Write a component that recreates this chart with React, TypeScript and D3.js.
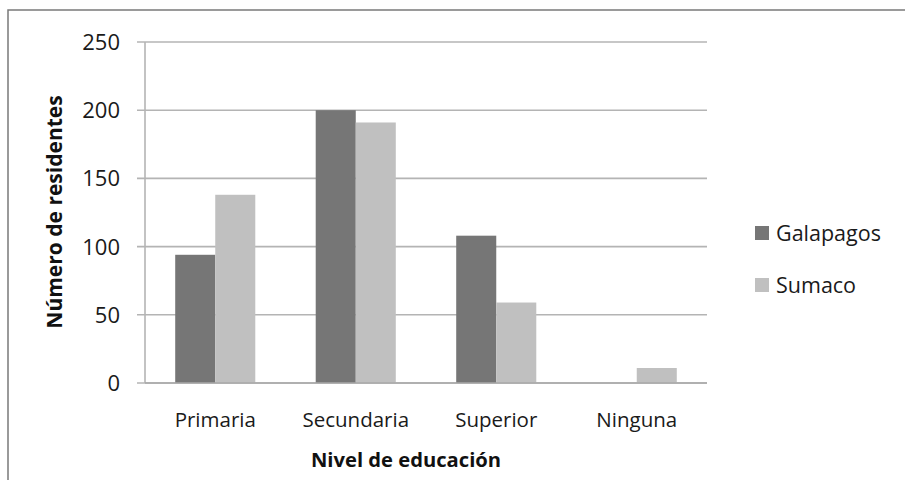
import React from "react";
import * as d3 from "d3";

const categories = ["Primaria", "Secundaria", "Superior", "Ninguna"];
const seriesNames = ["Galapagos", "Sumaco"];
const galapagos = [94, 200, 108, 0];
const sumaco = [138, 191, 59, 11];
const yTicks = [0, 50, 100, 150, 200, 250];
const colors = ["#767676", "#c0c0c0"];

const W = 905;
const H = 480;
const FONT = "'Open Sans', 'Noto Sans', sans-serif";

export default function App() {
  const left = 145, right = 707, top = 42, bottom = 383;
  const x = d3.scaleBand<string>().domain(categories).range([left, right]).paddingInner(0.43).paddingOuter(0.215);
  const xs = d3.scaleBand<string>().domain(seriesNames).range([0, x.bandwidth()]).padding(0);
  const y = d3.scaleLinear().domain([0, 250]).range([bottom, top]);
  const values = [galapagos, sumaco];

  return (
    <svg width={W} height={H} style={{ position: "absolute", left: 0, top: 0, background: "#fff" }} fontFamily={FONT}>
      <rect x={0} y={0} width={W} height={H} fill="#fff" />
      <rect x={8} y={10} width={W + 10} height={H + 10} fill="none" stroke="#7a7a7a" strokeWidth={1.5} />
      {yTicks.map((t) => (
        <g key={t}>
          <line x1={137} x2={right} y1={y(t)} y2={y(t)} stroke="#b4b4b4" strokeWidth={1.6} />
          <text x={120} y={y(t)} dy="0.36em" textAnchor="end" fontSize={22} fill="#1a1a1a">{t}</text>
        </g>
      ))}
      <line x1={left} x2={left} y1={top} y2={bottom} stroke="#b4b4b4" strokeWidth={1.6} />
      {seriesNames.map((s, si) =>
        categories.map((c, ci) => {
          const v = values[si][ci];
          if (v <= 0) return null;
          return (
            <rect key={s + c} x={(x(c) as number) + (xs(s) as number)} y={y(v)} width={xs.bandwidth()} height={y(0) - y(v)} fill={colors[si]} />
          );
        })
      )}
      <line x1={left} x2={right} y1={bottom} y2={bottom} stroke="#a8a8a8" strokeWidth={1.6} />
      {categories.map((c) => (
        <text key={c} x={(x(c) as number) + x.bandwidth() / 2} y={427} textAnchor="middle" fontSize={20.5} fill="#1a1a1a">{c}</text>
      ))}
      <text x={406} y={467} textAnchor="middle" fontSize={20.2} fontWeight="bold" fill="#111">Nivel de educación</text>
      <text transform={`translate(62,212) rotate(-90)`} textAnchor="middle" fontSize={21} fontWeight="bold" fill="#111">Número de residentes</text>
      {seriesNames.map((s, i) => (
        <g key={s} transform={`translate(755,${226 + i * 52})`}>
          <rect x={0} y={0} width={14} height={14} fill={colors[i]} />
          <text x={21} y={7} dy="0.36em" fontSize={21.5} fill="#1a1a1a">{s}</text>
        </g>
      ))}
    </svg>
  );
}
